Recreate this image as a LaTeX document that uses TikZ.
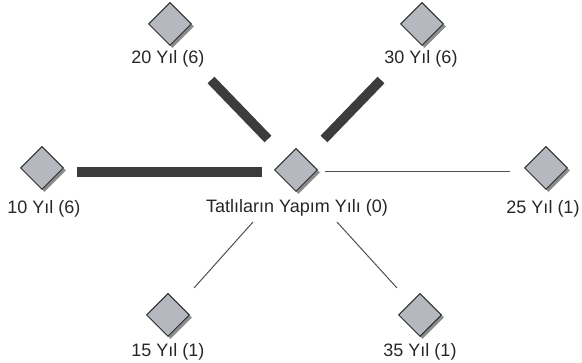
\documentclass[tikz,border=0pt]{standalone}
\usepackage{fontspec}
\setmainfont{Liberation Sans}
\usetikzlibrary{shapes.geometric,shadows}
\definecolor{dfill}{RGB}{182,184,192}
\definecolor{dline}{RGB}{45,45,45}
\definecolor{dshadow}{RGB}{140,140,140}
\definecolor{bar}{RGB}{60,60,60}
\definecolor{thin}{RGB}{80,80,80}
\tikzset{
  dia/.style={diamond, aspect=1, inner sep=0pt, minimum width=43pt, minimum height=43pt,
    draw=dline, line width=1pt, fill=dfill,
    drop shadow={shadow xshift=2.5pt, shadow yshift=-2.5pt, fill=dshadow, opacity=1}},
  lbl/.style={inner sep=0pt, text=black!85, font=\fontsize{18}{21}\selectfont},
  thickbar/.style={draw=bar, line width=9.5pt},
  thinline/.style={draw=thin, line width=1pt}
}
\begin{document}
\begin{tikzpicture}[x=1pt,y=-1pt]
\useasboundingbox (0,0) rectangle (582,363);
% diamonds
\node[dia] (c) at (296,170) {};
\node[dia] (n20) at (170,24) {};
\node[dia] (n30) at (422,24) {};
\node[dia] (n10) at (42,168) {};
\node[dia] (n25) at (546,168) {};
\node[dia] (n15) at (168,315) {};
\node[dia] (n35) at (420,315) {};
% labels
\node[lbl] (lc) at (297,208) {Tatlıların Yapım Yılı (0)};
\node[lbl] (l20) at (168,59) {20 Yıl (6)};
\node[lbl] (l30) at (421,59) {30 Yıl (6)};
\node[lbl] (l10) at (44,209) {10 Yıl (6)};
\node[lbl] (l25) at (543,209) {25 Yıl (1)};
\node[lbl] (l15) at (168,352) {15 Yıl (1)};
\node[lbl] (l35) at (420,352) {35 Yıl (1)};
% connector end points
\coordinate (a10) at (77,172);  \coordinate (b10) at (262,172);
\coordinate (a20) at (211,80);  \coordinate (b20) at (268,139);
\coordinate (a30) at (381,80);  \coordinate (b30) at (324,139);
\coordinate (a25) at (510,172); \coordinate (b25) at (325,172);
\coordinate (a15) at (194,288); \coordinate (b15) at (253,222);
\coordinate (a35) at (397,288); \coordinate (b35) at (337,222);
% connectors
\draw[thickbar] (a10) -- (b10);
\draw[thickbar] (a20) -- (b20);
\draw[thickbar] (a30) -- (b30);
\draw[thinline] (a25) -- (b25);
\draw[thinline] (a15) -- (b15);
\draw[thinline] (a35) -- (b35);
\end{tikzpicture}
\end{document}
